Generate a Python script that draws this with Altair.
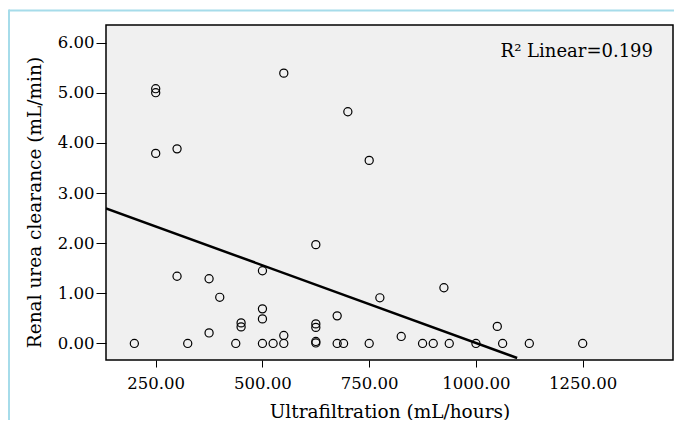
import altair as alt
import pandas as pd

# Ultrafiltration (mL/hours) and renal urea clearance (mL/min)
uf = [200, 250, 250, 250, 300, 300, 325, 375, 375, 400, 437.5, 450, 450,
      500, 500, 500, 500, 525, 550, 550, 550, 625, 625, 625, 625, 625,
      675, 675, 690, 700, 750, 750, 775, 825, 875, 900, 925, 937.5, 1000,
      1050, 1062.5, 1125, 1250]
ruc = [0.00, 5.08, 5.00, 3.79, 3.88, 1.34, 0.00, 1.29, 0.21, 0.92, 0.00, 0.41, 0.33,
       1.45, 0.69, 0.49, 0.00, 0.00, 5.39, 0.16, 0.00, 1.97, 0.39, 0.32, 0.04, 0.01,
       0.55, 0.00, 0.00, 4.62, 3.65, 0.00, 0.91, 0.14, 0.00, 0.00, 1.11, 0.00, 0.00,
       0.34, 0.00, 0.00, 0.00]

# Linear fit line endpoints as drawn in the reference
fit_x = [133.6, 1096.5]
fit_y = [2.694, -0.29]

x_ticks = [250, 500, 750, 1000, 1250]
y_ticks = [0, 1, 2, 3, 4, 5, 6]
annotation = "R\u00b2 Linear=0.199"

pts = pd.DataFrame({"uf": uf, "ruc": ruc})
fit = pd.DataFrame({"uf": fit_x, "ruc": fit_y})

FONT = "DejaVu Serif"

xscale = alt.Scale(domain=[133.6, 1461.5], nice=False, zero=False)
yscale = alt.Scale(domain=[-0.33, 6.35], nice=False, zero=False)

xaxis = alt.Axis(values=x_ticks, format=".2f", title="Ultrafiltration (mL/hours)",
                 grid=False, domain=False, tickSize=7, tickColor="black",
                 labelPadding=8, labelFont=FONT, labelFontSize=16.5, labelColor="black",
                 titleFont=FONT, titleFontSize=18.5, titleFontWeight="normal",
                 titleColor="black", titleBaseline="alphabetic", titleY=57)
yaxis = alt.Axis(values=y_ticks, format=".2f", title="Renal urea clearance (mL/min)",
                 grid=False, domain=False, tickSize=10, tickColor="black",
                 labelPadding=2, labelFont=FONT, labelFontSize=16.5, labelColor="black",
                 titleFont=FONT, titleFontSize=18.5, titleFontWeight="normal",
                 titleColor="black", titleX=-62, titleY=177)

points = alt.Chart(pts).mark_point(shape="circle", filled=False, color="black",
                                   size=66, strokeWidth=1.2, opacity=1).encode(
    x=alt.X("uf:Q", scale=xscale, axis=xaxis),
    y=alt.Y("ruc:Q", scale=yscale, axis=yaxis),
)

line = alt.Chart(fit).mark_line(color="black", strokeWidth=2.5, clip=True).encode(
    x=alt.X("uf:Q", scale=xscale),
    y=alt.Y("ruc:Q", scale=yscale),
)

label = alt.Chart(pd.DataFrame({"t": [annotation]})).mark_text(
    font=FONT, fontSize=18, align="right", baseline="alphabetic", color="black"
).encode(x=alt.value(547), y=alt.value(32), text="t:N")

frame_top = alt.Chart(pd.DataFrame({"a": [0]})).mark_rule(
    color="#a6dcea", strokeWidth=2).encode(
    x=alt.value(-97), x2=alt.value(580), y=alt.value(-14.5))
frame_left = alt.Chart(pd.DataFrame({"a": [0]})).mark_rule(
    color="#a6dcea", strokeWidth=2).encode(
    x=alt.value(-97), y=alt.value(-15.5), y2=alt.value(400))

chart = alt.layer(frame_top, frame_left, line, points, label).properties(
    width=567, height=335,
    autosize=alt.AutoSizeParams(type="none"),
    padding={"left": 98, "top": 17, "right": 1, "bottom": 60},
    background="white",
).configure_view(fill="#f0f0f0", stroke="black", strokeWidth=1.5)

chart.save("out.html", embed_options={"renderer": "svg", "actions": False})
